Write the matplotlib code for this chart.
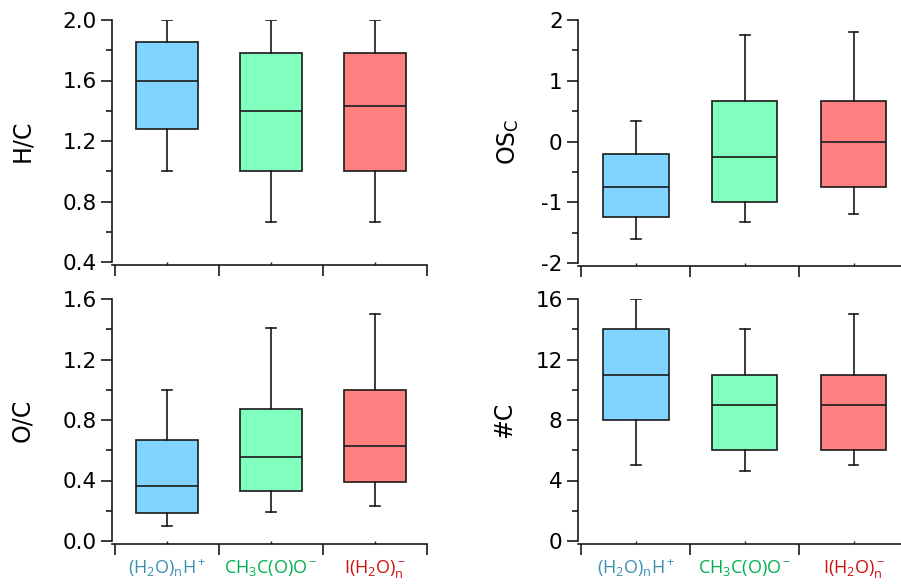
import matplotlib
matplotlib.use("Agg")
import matplotlib.pyplot as plt
from matplotlib.ticker import AutoMinorLocator, FixedLocator, MultipleLocator

plt.rcParams['font.family'] = 'DejaVu Sans'
plt.rcParams['axes.unicode_minus'] = False
plt.rcParams['mathtext.fontset'] = 'custom'
plt.rcParams['mathtext.rm'] = 'Open Sans'
plt.rcParams['mathtext.it'] = 'Open Sans'

# reagent ions (x categories)
categories = [r'$\mathrm{(H_2O)_nH^+}$', r'$\mathrm{CH_3C(O)O^-}$', r'$\mathrm{I(H_2O)_n^-}$']
label_colors = ['#3D8FB3', '#00B050', '#CC1111']
box_colors = ['#80D4FF', '#80FFBF', '#FF8080']

# box statistics per panel: whisker low, Q1, median, Q3, whisker high
hc_low = [1.0, 0.667, 0.667]
hc_q1 = [1.277, 1.0, 1.0]
hc_med = [1.6, 1.4, 1.429]
hc_q3 = [1.855, 1.78, 1.78]
hc_high = [2.0, 2.0, 2.0]

os_low = [-1.6, -1.33, -1.2]
os_q1 = [-1.25, -1.0, -0.75]
os_med = [-0.75, -0.25, 0.0]
os_q3 = [-0.2, 0.667, 0.667]
os_high = [0.333, 1.75, 1.8]

oc_low = [0.1, 0.189, 0.233]
oc_q1 = [0.183, 0.333, 0.387]
oc_med = [0.363, 0.557, 0.625]
oc_q3 = [0.667, 0.875, 1.0]
oc_high = [1.0, 1.41, 1.5]

nc_low = [5, 4.6, 5]
nc_q1 = [8, 6, 6]
nc_med = [11, 9, 9]
nc_q3 = [14, 11, 11]
nc_high = [16, 14, 15]

W, H = 901, 584
fig = plt.figure(figsize=(W / 100, H / 100), dpi=100)

panels = [
    # left, right, top px, bottom px, xmin, data, ylim, major, ylabel, label x px, show labels
    (112, 427, 20, 262, 0.471, (hc_low, hc_q1, hc_med, hc_q3, hc_high), (0.4, 2.0), 0.4, 'H/C', 34, False),
    (578, 908, 20, 263, 0.468, (os_low, os_q1, os_med, os_q3, os_high), (-2, 2), 1, r'OS$_\mathregular{C}$', 521, False),
    (112, 427, 299, 541, 0.471, (oc_low, oc_q1, oc_med, oc_q3, oc_high), (0.0, 1.6), 0.4, 'O/C', 34, True),
    (578, 908, 299, 541, 0.468, (nc_low, nc_q1, nc_med, nc_q3, nc_high), (0, 16), 4, '#C', 516, True),
]

for left, right, top, bottom, xmin, data, ylim, major, ylabel, labelx, show in panels:
    ax = fig.add_axes([left / W, (H - bottom) / H, (right - left) / W, (bottom - top) / H])
    low, q1, med, q3, high = data
    stats = [dict(whislo=low[i], q1=q1[i], med=med[i], q3=q3[i], whishi=high[i], fliers=[])
             for i in range(3)]
    bp = ax.bxp(stats, positions=[1, 2, 3], widths=0.6, capwidths=0.09,
                patch_artist=True, showfliers=False,
                boxprops=dict(linewidth=1.2, edgecolor='#1a1a1a'),
                medianprops=dict(color='#1a1a1a', linewidth=1.2),
                whiskerprops=dict(color='#1a1a1a', linewidth=1.2),
                capprops=dict(color='#1a1a1a', linewidth=1.2))
    for patch, c in zip(bp['boxes'], box_colors):
        patch.set_facecolor(c)

    ax.set_xlim(xmin, 3.5)
    ax.set_ylim(*ylim)
    ax.spines['top'].set_visible(False)
    ax.spines['right'].set_visible(False)
    ax.spines['bottom'].set_position(('outward', 2))
    for s in ('left', 'bottom'):
        ax.spines[s].set_linewidth(1.2)
        ax.spines[s].set_color('#1a1a1a')

    ax.yaxis.set_major_locator(MultipleLocator(major))
    ax.yaxis.set_minor_locator(AutoMinorLocator(2))
    if major < 1:
        ax.yaxis.set_major_formatter(plt.FormatStrFormatter('%.1f'))
    ax.tick_params(axis='y', which='major', direction='out', length=8, width=1.2,
                   labelsize=15.5, pad=3, color='#1a1a1a')
    ax.tick_params(axis='y', which='minor', direction='out', length=4.5, width=1.2, color='#1a1a1a')

    ax.xaxis.set_major_locator(FixedLocator([0.5, 1.5, 2.5, 3.5]))
    ax.xaxis.set_minor_locator(FixedLocator([1, 2, 3]))
    ax.tick_params(axis='x', which='major', direction='out', length=8, width=1.2,
                   labelbottom=False, color='#1a1a1a')
    ax.tick_params(axis='x', which='minor', direction='in', length=2, width=1.0,
                   labelsize=13, pad=10, color='#1a1a1a')
    if show:
        ax.set_xticklabels(categories, minor=True)
        for t, c in zip(ax.get_xticklabels(minor=True), label_colors):
            t.set_color(c)
    else:
        ax.set_xticklabels([], minor=True)

    ax.set_ylabel(ylabel, fontsize=17)
    ax.yaxis.set_label_coords((labelx - left) / (right - left), 0.5)

fig.savefig('out.png', dpi=100)
